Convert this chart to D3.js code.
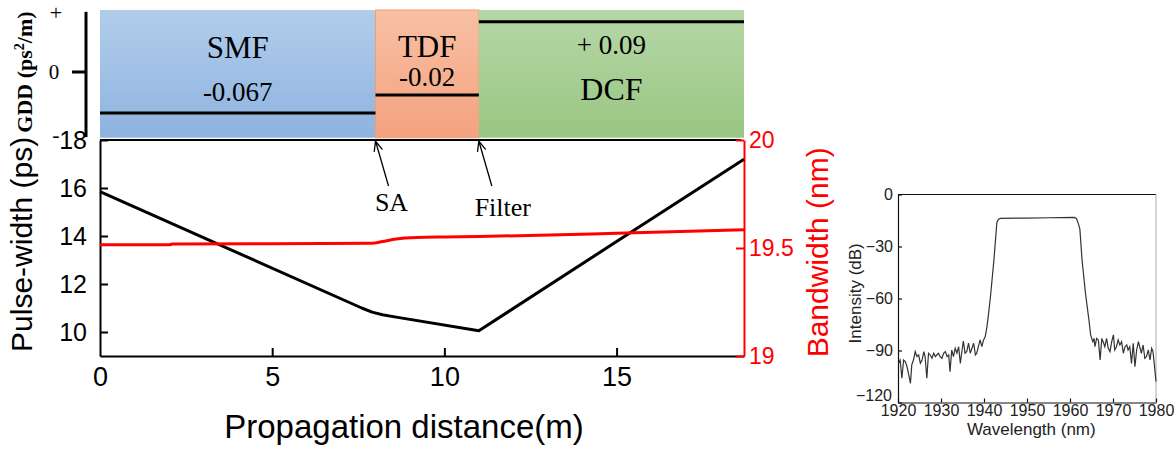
<!DOCTYPE html>
<html>
<head>
<meta charset="utf-8">
<script src="https://cdn.jsdelivr.net/npm/d3@7"></script>
<style>
  body { margin: 0; background: #fff; }
  svg text { font-family: "Liberation Sans", Arial, sans-serif; }
  svg text.serif { font-family: "Liberation Serif", "Times New Roman", serif; }
</style>
</head>
<body>
<div id="chart"></div>
<script>
// Fiber sections (m) and their GDD (ps^2/m)
var sections = ["SMF", "TDF", "DCF"];
var sectionStart = [0, 8, 11];
var sectionEnd = [8, 11, 18.7];
var sectionGDD = ["-0.067", "-0.02", "+ 0.09"];
// schematic height of each GDD bar on the  - / 0 / +  axis
var gddLevel = [-0.66, -0.37, 0.81];
var gddTicks = [-1, 0, 1];
var gddTickLabels = ["-", "0", "+"];

// pulse width (ps) along the cavity
var pwDistance = [0, 4, 7.6, 7.9, 8.2, 8.6, 11, 15, 18.7];
var pwValue = [15.85, 13.3, 11.0, 10.83, 10.72, 10.62, 10.05, 13.77, 17.2];

// bandwidth (nm) along the cavity
var bwDistance = [0, 2, 2.1, 7.9, 8.2, 8.6, 9.2, 10, 11, 15, 18.7];
var bwValue = [19.515, 19.515, 19.518, 19.522, 19.53, 19.542, 19.549, 19.551, 19.553, 19.568, 19.585];

var xTicks = [0, 5, 10, 15];
var pwTicks = [10, 12, 14, 16, 18];
var bwTicks = [19, 19.5, 20];

// output spectrum (inset)
var specWavelength = [1920.1, 1920.5, 1920.9, 1921.3, 1921.7, 1922.1, 1922.5, 1922.9, 1923.2, 1923.6,
  1924.0, 1924.4, 1924.8, 1925.2, 1925.6, 1926.0, 1926.3, 1926.7, 1927.1, 1927.5,
  1927.9, 1928.3, 1928.7, 1929.0, 1929.4, 1929.8, 1930.2, 1930.6, 1931.0, 1931.4,
  1931.8, 1932.1, 1932.5, 1932.9, 1933.3, 1933.7, 1934.1, 1934.5, 1934.9, 1935.2,
  1935.6, 1936.0, 1936.4, 1936.8, 1937.2, 1937.6, 1938.0, 1938.3, 1938.7, 1939.1,
  1939.5, 1939.9, 1940.3, 1940.7, 1941.0, 1941.5, 1942.3, 1943.0, 1943.4, 1943.8,
  1950, 1955, 1961.0, 1961.5, 1961.9, 1962.3, 1962.8, 1963.6, 1964.4, 1964.8,
  1965.3, 1965.6, 1965.8, 1966.2, 1966.6, 1967.0, 1967.4, 1967.7, 1968.1, 1968.5,
  1968.9, 1969.3, 1969.7, 1970.1, 1970.4, 1970.8, 1971.2, 1971.6, 1972.0, 1972.4,
  1972.8, 1973.2, 1973.5, 1973.9, 1974.3, 1974.7, 1975.1, 1975.5, 1975.9, 1976.3,
  1976.6, 1977.0, 1977.4, 1977.8, 1978.2, 1978.6, 1979.0, 1979.3, 1979.7, 1980.0];
var specIntensity = [-97.4, -95.5, -106, -95.5, -96.4, -99.3, -104.1, -108.9, -98.3, -95.5,
  -90.6, -93.5, -92.6, -97.4, -95.5, -90.6, -93.5, -106, -91.6, -92.6,
  -94.5, -91.6, -93.5, -92.6, -91.6, -93.5, -94.5, -91.6, -90.6, -93.5,
  -92.6, -102.2, -89.7, -93.5, -88.7, -91.6, -87.8, -97.4, -89.7, -84.5,
  -91.6, -90.6, -85.8, -91.6, -88.7, -85.8, -92.6, -91.6, -87.8, -83.9,
  -87.8, -83.9, -82.0, -76, -70, -59, -38, -16, -14.2, -13.8,
  -13.6, -13.4, -13.2, -13.8, -16.5, -20, -37.8, -57, -72.4, -81,
  -84.9, -83.0, -87.8, -83.0, -83.9, -95.4, -83.0, -84.9, -87.8, -83.0,
  -88.7, -90.6, -84.9, -81.0, -89.7, -87.8, -83.9, -86.8, -84.9, -91.6,
  -87.8, -86.8, -89.7, -87.8, -97.4, -85.9, -99.3, -89.7, -84.9, -88.7,
  -91.6, -86.8, -94.5, -93.5, -89.7, -95.4, -88.7, -90.6, -100.3, -107.9];
var specXTicks = [1920, 1930, 1940, 1950, 1960, 1970, 1980];
var specYTicks = [-120, -90, -60, -30, 0];

var svgWidth = 1174;
var svgHeight = 452;

var svg = d3.select("#chart")
  .append("svg")
  .attr("width", svgWidth)
  .attr("height", svgHeight);

// ---------- main plot scales ----------
var x = d3.scaleLinear().domain([0, 18.7]).range([100, 744]);
var yPw = d3.scaleLinear().domain([9, 18]).range([356, 140]);
var yBw = d3.scaleLinear().domain([19, 20]).range([356, 140]);
var yGdd = d3.scaleLinear().domain([-1, 1]).range([134, 10]);

// ---------- GDD panel ----------
var defs = svg.append("defs");
var bandColors = [["#b1cdea", "#8eb3e0"], ["#f8c0a4", "#f4a27f"], ["#b6d7a7", "#99c682"]];
bandColors.forEach(function(c, i) {
  var g = defs.append("linearGradient")
    .attr("id", "band" + i)
    .attr("x1", 0).attr("y1", 0).attr("x2", 0).attr("y2", 1);
  g.append("stop").attr("offset", "0%").attr("stop-color", c[0]);
  g.append("stop").attr("offset", "100%").attr("stop-color", c[1]);
});

var gddGroup = svg.append("g");

gddGroup.selectAll("rect.band")
  .data(sections)
  .enter()
  .append("rect")
  .attr("class", "band")
  .attr("x", function(d, i) { return x(sectionStart[i]); })
  .attr("y", yGdd(1))
  .attr("width", function(d, i) { return x(sectionEnd[i]) - x(sectionStart[i]); })
  .attr("height", yGdd(-1.06) - yGdd(1))
  .attr("fill", function(d, i) { return "url(#band" + i + ")"; })
  .attr("stroke", function(d, i) { return i == 1 ? "#f0a070" : "none"; })
  .attr("stroke-width", 1);

gddGroup.selectAll("line.gdd")
  .data(gddLevel)
  .enter()
  .append("line")
  .attr("class", "gdd")
  .attr("x1", function(d, i) { return x(sectionStart[i]); })
  .attr("x2", function(d, i) { return x(sectionEnd[i]); })
  .attr("y1", function(d) { return yGdd(d); })
  .attr("y2", function(d) { return yGdd(d); })
  .attr("stroke", "#000")
  .attr("stroke-width", 3);

// section names and GDD values
var nameY = [58, 57, 100];
var valueY = [101, 86, 54];
var nameSize = [31, 31, 32];
var valueSize = [27, 27, 27];
gddGroup.selectAll("text.name")
  .data(sections)
  .enter()
  .append("text")
  .attr("class", "serif name")
  .attr("x", function(d, i) { return x((sectionStart[i] + sectionEnd[i]) / 2); })
  .attr("y", function(d, i) { return nameY[i]; })
  .attr("text-anchor", "middle")
  .attr("font-size", function(d, i) { return nameSize[i]; })
  .text(function(d) { return d; });

gddGroup.selectAll("text.value")
  .data(sectionGDD)
  .enter()
  .append("text")
  .attr("class", "serif value")
  .attr("x", function(d, i) { return x((sectionStart[i] + sectionEnd[i]) / 2); })
  .attr("y", function(d, i) { return valueY[i]; })
  .attr("text-anchor", "middle")
  .attr("font-size", function(d, i) { return valueSize[i]; })
  .text(function(d) { return d; });

// GDD axis
gddGroup.append("line")
  .attr("x1", 86).attr("x2", 86)
  .attr("y1", yGdd(0.97)).attr("y2", yGdd(-1.05))
  .attr("stroke", "#000").attr("stroke-width", 3);
gddGroup.append("line")
  .attr("x1", 72).attr("x2", 86)
  .attr("y1", yGdd(0)).attr("y2", yGdd(0))
  .attr("stroke", "#000").attr("stroke-width", 3);
gddGroup.selectAll("text.gtick")
  .data(gddTicks)
  .enter()
  .append("text")
  .attr("class", "serif gtick")
  .attr("x", function(d) { return d == 0 ? 54 : 56; })
  .attr("y", function(d) { return yGdd(d); })
  .attr("dy", function(d) { return d == 1 ? "0.45em" : "0.35em"; })
  .attr("text-anchor", "middle")
  .attr("font-size", function(d) { return d == 0 ? 21 : 22; })
  .text(function(d, i) { return gddTickLabels[i]; });

var gddTitle = gddGroup.append("text")
  .attr("class", "serif")
  .attr("transform", "translate(32," + yGdd(0) + ") rotate(-90)")
  .attr("text-anchor", "middle")
  .attr("font-size", 22)
  .attr("font-weight", "bold");
gddTitle.append("tspan").text("GDD (ps");
gddTitle.append("tspan").attr("dy", -8).attr("font-size", 14).text("2");
gddTitle.append("tspan").attr("dy", 8).text("/m)");

// ---------- main plot ----------
var chartGroup = svg.append("g");

// top frame
chartGroup.append("line")
  .attr("x1", x(0)).attr("x2", x(18.7) - 3)
  .attr("y1", yPw(18)).attr("y2", yPw(18))
  .attr("stroke", "#000").attr("stroke-width", 2);

var bottomAxis = d3.axisBottom(x).tickValues(xTicks).tickSize(-8).tickSizeOuter(0).tickPadding(11);
var leftAxis = d3.axisLeft(yPw).tickValues(pwTicks).tickSize(-8).tickSizeOuter(0).tickPadding(13);
var rightAxis = d3.axisRight(yBw).tickValues(bwTicks).tickSize(-8).tickSizeOuter(0).tickPadding(5)
  .tickFormat(function(d) { return d3.format("")(d); });

var xAxis = chartGroup.append("g")
  .attr("transform", "translate(0," + yPw(9) + ")")
  .call(bottomAxis);
xAxis.selectAll("text").attr("font-size", 27).attr("fill", "#000");
xAxis.selectAll("line, path").attr("stroke", "#000").attr("stroke-width", 2);
xAxis.selectAll(".tick").filter(function(d) { return d == 0; }).select("line").remove();

var yAxis = chartGroup.append("g")
  .attr("transform", "translate(" + x(0) + ",0)")
  .call(leftAxis);
yAxis.selectAll("text").attr("font-size", 25).attr("fill", "#000");
yAxis.selectAll("line, path").attr("stroke", "#000").attr("stroke-width", 2);

var yAxisRight = chartGroup.append("g")
  .attr("transform", "translate(" + x(18.7) + ",0)")
  .call(rightAxis);
yAxisRight.selectAll("text").attr("font-size", 23).attr("fill", "#ff0000");
yAxisRight.selectAll("line, path").attr("stroke", "#ff0000").attr("stroke-width", 2);

// curves
var pwLine = d3.line()
  .x(function(d, i) { return x(pwDistance[i]); })
  .y(function(d) { return yPw(d); });
chartGroup.append("path")
  .attr("d", pwLine(pwValue))
  .attr("fill", "none")
  .attr("stroke", "#000")
  .attr("stroke-width", 3)
  .attr("stroke-linejoin", "round");

var bwLine = d3.line()
  .x(function(d, i) { return x(bwDistance[i]); })
  .y(function(d) { return yBw(d); })
  .curve(d3.curveMonotoneX);
chartGroup.append("path")
  .attr("d", bwLine(bwValue))
  .attr("fill", "none")
  .attr("stroke", "#ff0000")
  .attr("stroke-width", 3);

// SA / Filter arrows
var markers = [{ at: 8, label: "SA", dx: 16, ty: 211 }, { at: 11, label: "Filter", dx: 24, ty: 216 }];
markers.forEach(function(m) {
  var tx = x(m.at), ty = yPw(18) + 1;
  var sx = tx + 13, sy = ty + 45;
  var ang = Math.atan2(ty - sy, tx - sx);
  var head = 11, spread = 0.4;
  chartGroup.append("path")
    .attr("d", "M" + sx + "," + sy + "L" + tx + "," + ty
      + "M" + (tx - head * Math.cos(ang - spread)) + "," + (ty - head * Math.sin(ang - spread))
      + "L" + tx + "," + ty
      + "L" + (tx - head * Math.cos(ang + spread)) + "," + (ty - head * Math.sin(ang + spread)))
    .attr("fill", "none")
    .attr("stroke", "#000")
    .attr("stroke-width", 1.3);
  chartGroup.append("text")
    .attr("class", "serif")
    .attr("x", tx + m.dx)
    .attr("y", m.ty)
    .attr("text-anchor", "middle")
    .attr("font-size", 26)
    .text(m.label);
});

// axis labels
chartGroup.append("text")
  .attr("transform", "translate(32," + yPw(13.65) + ") rotate(-90)")
  .attr("text-anchor", "middle")
  .attr("font-size", 30)
  .text("Pulse-width (ps)");

chartGroup.append("text")
  .attr("transform", "translate(828," + yBw(19.48) + ") rotate(-90)")
  .attr("text-anchor", "middle")
  .attr("font-size", 30)
  .attr("fill", "#ff0000")
  .text("Bandwidth (nm)");

chartGroup.append("text")
  .attr("x", 404)
  .attr("y", 438)
  .attr("text-anchor", "middle")
  .attr("font-size", 33)
  .text("Propagation distance(m)");

// ---------- inset spectrum ----------
var sx = d3.scaleLinear().domain([1920, 1980]).range([898, 1156]);
var sy = d3.scaleLinear().domain([-120, 0]).range([402.5, 194.5]);
var inset = svg.append("g");

inset.append("line")
  .attr("x1", sx(1920)).attr("x2", sx(1980))
  .attr("y1", sy(0)).attr("y2", sy(0))
  .attr("stroke", "#111").attr("stroke-width", 1.2);
inset.append("line")
  .attr("x1", sx(1980)).attr("x2", sx(1980))
  .attr("y1", sy(0)).attr("y2", sy(-120))
  .attr("stroke", "#aaa").attr("stroke-width", 1);

var specBottom = d3.axisBottom(sx).tickValues(specXTicks).tickSize(-4).tickSizeOuter(0).tickPadding(2)
  .tickFormat(d3.format("d"));
var specLeft = d3.axisLeft(sy).tickValues(specYTicks).tickSize(-4).tickSizeOuter(0).tickPadding(5)
  .tickFormat(d3.format("d"));

var sxAxis = inset.append("g")
  .attr("transform", "translate(0," + sy(-120) + ")")
  .call(specBottom);
sxAxis.selectAll("text").attr("font-size", 16).attr("fill", "#222");
sxAxis.selectAll("line, path").attr("stroke", "#111").attr("stroke-width", 1.2);

var syAxis = inset.append("g")
  .attr("transform", "translate(" + sx(1920) + ",0)")
  .call(specLeft);
syAxis.selectAll("text").attr("font-size", 16).attr("fill", "#222");
syAxis.selectAll("line, path").attr("stroke", "#111").attr("stroke-width", 1.2);
// "-120" sits a little above the corner so it clears "1920"
syAxis.selectAll(".tick").filter(function(d) { return d == -120; }).select("text")
  .attr("dy", "-0.12em").attr("x", -6);

var specLine = d3.line()
  .x(function(d, i) { return sx(specWavelength[i]); })
  .y(function(d) { return sy(d); });
inset.append("path")
  .attr("d", specLine(specIntensity))
  .attr("fill", "none")
  .attr("stroke", "#333")
  .attr("stroke-width", 1.2);

inset.append("text")
  .attr("transform", "translate(861," + sy(-57) + ") rotate(-90)")
  .attr("text-anchor", "middle")
  .attr("font-size", 17)
  .attr("fill", "#222")
  .text("Intensity (dB)");

inset.append("text")
  .attr("x", sx(1951))
  .attr("y", 435)
  .attr("text-anchor", "middle")
  .attr("font-size", 17)
  .attr("fill", "#222")
  .text("Wavelength (nm)");
</script>
</body>
</html>
